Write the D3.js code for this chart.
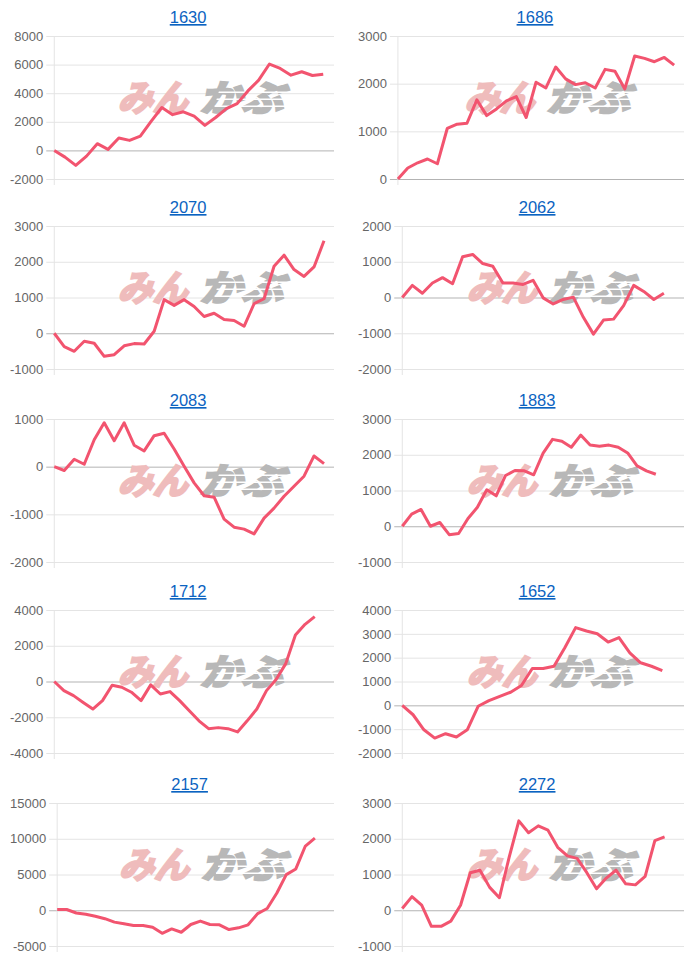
<!DOCTYPE html>
<html>
<head>
<meta charset="utf-8">
<script src="https://cdn.jsdelivr.net/npm/d3@7"></script>
<style>
body { margin: 0; background: #fff; }
svg text { font-family: "Liberation Sans", Arial, Helvetica, sans-serif; }
</style>
</head>
<body>
<svg id="chart" width="700" height="958"></svg>
<script>
// titles, row by row (left, right)
var codes = ["1630", "1686", "2070", "2062", "2083", "1883", "1712", "1652", "2157", "2272"];

// one series per code
var s1630 = [0, -470, -1050, -400, 470, 70, 870, 700, 1000, 2030, 3000, 2500, 2700, 2390, 1750, 2300, 2920, 3270, 4160, 4910, 6040, 5730, 5260, 5500, 5240, 5330];
var s1686 = [0, 230, 340, 420, 320, 1060, 1150, 1170, 1660, 1330, 1470, 1640, 1730, 1290, 2030, 1910, 2350, 2100, 1980, 2020, 1910, 2300, 2260, 1890, 2580, 2530, 2460, 2550, 2390];
var s2070 = [0, -375, -505, -225, -280, -645, -600, -350, -290, -300, 55, 940, 780, 940, 750, 470, 560, 385, 355, 195, 825, 965, 1875, 2185, 1780, 1590, 1855, 2585];
var s2062 = [0, 340, 120, 405, 555, 385, 1140, 1205, 950, 875, 405, 405, 365, 480, -10, -180, -55, 10, -555, -1025, -630, -605, -225, 340, 170, -55, 120];
var s2083 = [0, -80, 155, 50, 565, 920, 545, 920, 450, 330, 650, 700, 370, 10, -340, -610, -640, -1100, -1270, -1310, -1410, -1080, -870, -620, -410, -200, 225, 65];
var s1883 = [0, 340, 470, 0, 105, -235, -205, 215, 530, 1020, 850, 1420, 1560, 1550, 1440, 2045, 2430, 2380, 2210, 2550, 2270, 2240, 2270, 2210, 2050, 1690, 1550, 1455];
var s1712 = [0, -510, -790, -1170, -1540, -1070, -210, -320, -600, -1070, -190, -700, -565, -1070, -1640, -2200, -2640, -2580, -2640, -2820, -2200, -1540, -510, 110, 1000, 2600, 3200, 3630];
var s1652 = [0, -395, -1025, -1375, -1190, -1330, -1025, -40, 200, 380, 550, 830, 1545, 1545, 1640, 2415, 3260, 3120, 3005, 2655, 2840, 2205, 1785, 1640, 1460];
var s2157 = [100, 100, -380, -570, -850, -1180, -1660, -1900, -2130, -2130, -2370, -3220, -2610, -3080, -1990, -1520, -1990, -2040, -2700, -2460, -2040, -470, 240, 2370, 4980, 5780, 8980, 10090];
var s2272 = [50, 380, 140, -450, -450, -305, 140, 1050, 1120, 640, 350, 1480, 2500, 2170, 2360, 2240, 1760, 1520, 1450, 1050, 600, 900, 1120, 740, 710, 950, 1950, 2050];
var series = [s1630, s1686, s2070, s2062, s2083, s1883, s1712, s1652, s2157, s2272];

// y axis ranges and tick steps
var yMin = [-2000, 0, -1000, -2000, -2000, -1000, -4000, -2000, -5000, -1000];
var yMax = [8000, 3000, 3000, 2000, 1000, 3000, 4000, 4000, 15000, 3000];
var yStep = [2000, 1000, 1000, 1000, 1000, 1000, 2000, 1000, 5000, 1000];

// number of x category slots per chart
var slots = [26, 29, 28, 28, 28, 30, 29, 26, 29, 29];

var svg = d3.select("svg#chart");

var colLeft = [10, 358], colRight = [334, 684];
var rowTop = [36, 226, 419, 610, 803];
var plotH = 143;
var lineColor = "rgb(242, 84, 111)";

function labelWidth(ticks) {
    var t = svg.append("text").style("font-size", "13px");
    var w = 0;
    ticks.forEach(function (v) {
        t.text(String(v));
        w = Math.max(w, t.node().getComputedTextLength());
    });
    t.remove();
    return w;
}

codes.forEach(function (code, k) {
    var col = k % 2, row = Math.floor(k / 2);
    var ticks = d3.range(yMin[k], yMax[k] + 1, yStep[k]);
    var x0 = colLeft[col] + labelWidth(ticks) + 11;
    var x1 = colRight[col];
    var top = rowTop[row];

    var x = d3.scaleLinear().domain([0, slots[k]]).range([x0, x1]);
    var y = d3.scaleLinear().domain([yMin[k], yMax[k]]).range([top + plotH, top]);

    var g = svg.append("g").attr("class", "panel");

    // title
    g.append("text")
        .attr("x", (x0 + x1) / 2 - 6)
        .attr("y", top - 13)
        .attr("text-anchor", "middle")
        .style("font-size", "16.5px")
        .style("fill", "#0b63c1")
        .style("text-decoration", "underline")
        .text(code);

    // y axis with grid
    var ax = g.append("g")
        .attr("transform", "translate(" + x0 + ",0)")
        .call(d3.axisLeft(y).tickValues(ticks).tickSizeInner(-(x1 - x0)).tickSizeOuter(0).tickPadding(11)
            .tickFormat(function (d) { return String(d); }));
    ax.select(".domain").remove();
    ax.selectAll(".tick line")
        .attr("x1", -8)
        .attr("stroke", function (d) { return d === 0 ? "#b3b3b3" : "#e4e4e4"; })
        .attr("stroke-width", 1);
    ax.selectAll(".tick text")
        .style("font-size", "13px")
        .style("fill", "#666")
        .style("font-family", '"Liberation Sans", Arial, sans-serif');

    // left axis line
    g.append("line")
        .attr("x1", x0).attr("x2", x0)
        .attr("y1", top).attr("y2", top + plotH + 6)
        .attr("stroke", "#e4e4e4");

    // watermark
    var cx = (x0 + x1) / 2 + 11, cy = top + plotH / 2 - 10;
    var wm = g.append("g").attr("transform", "translate(" + cx + "," + cy + ") skewX(-16)");
    wm.append("text")
        .attr("x", -84).attr("y", 13)
        .style("font-family", '"Noto Sans CJK JP", sans-serif')
        .style("font-weight", "bold")
        .style("font-size", "36px")
        .style("fill", "#efbcbc")
        .style("stroke", "#efbcbc")
        .style("stroke-width", 2.5)
        .attr("textLength", 70)
        .attr("lengthAdjust", "spacingAndGlyphs")
        .text("みん");
    wm.append("text")
        .attr("x", -2).attr("y", 13)
        .style("font-family", '"Noto Sans CJK JP", sans-serif')
        .style("font-weight", "bold")
        .style("font-size", "36px")
        .style("fill", "#b8b8b8")
        .style("stroke", "#b8b8b8")
        .style("stroke-width", 2.5)
        .attr("textLength", 84)
        .attr("lengthAdjust", "spacingAndGlyphs")
        .text("かぶ");
    [-6, 1, 8].forEach(function (dy) {
        wm.append("rect")
            .attr("x", 12).attr("y", dy)
            .attr("width", 74).attr("height", 1.6)
            .attr("fill", "#fff");
    });

    // line
    var line = d3.line()
        .x(function (d, i) { return x(i); })
        .y(function (d) { return y(d); });
    g.append("path")
        .datum(series[k])
        .attr("d", line)
        .attr("fill", "none")
        .attr("stroke", lineColor)
        .attr("stroke-width", 3)
        .attr("stroke-linejoin", "round");
});
</script>
</body>
</html>
